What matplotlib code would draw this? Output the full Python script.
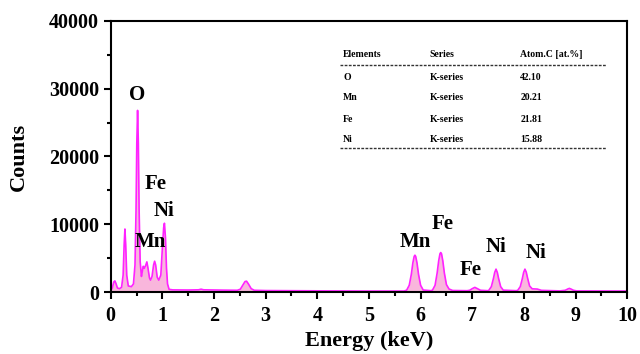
import matplotlib
matplotlib.use('Agg')
import matplotlib.pyplot as plt
from matplotlib.ticker import MultipleLocator

plt.rcParams['font.family'] = ['Liberation Serif', 'DejaVu Serif']
plt.rcParams['font.weight'] = 'bold'

# EDS spectrum, energy (keV) vs counts
energy = [0.00, 0.03, 0.06, 0.08, 0.10, 0.13, 0.17, 0.21, 0.24, 0.26, 0.275, 0.29, 0.31, 0.34,
          0.40, 0.44, 0.47, 0.49, 0.505, 0.52, 0.535, 0.55, 0.57, 0.595, 0.615, 0.63, 0.65,
          0.675, 0.70, 0.72, 0.75, 0.77, 0.80, 0.83, 0.85, 0.87, 0.90, 0.93, 0.97, 1.00,
          1.025, 1.04, 1.06, 1.08, 1.10, 1.13, 1.20, 1.50, 1.70, 1.75, 1.80, 2.20, 2.45,
          2.51, 2.56, 2.60, 2.63, 2.67, 2.72, 2.78, 3.00, 4.00, 5.00, 5.68,
          5.73, 5.78, 5.82, 5.85, 5.875, 5.89, 5.905, 5.93, 5.96, 6.00, 6.05, 6.20,
          6.23, 6.28, 6.32, 6.35, 6.375, 6.39, 6.405, 6.43, 6.46, 6.50, 6.55, 6.62, 6.90,
          6.95, 7.00, 7.05, 7.10, 7.16, 7.30,
          7.32, 7.37, 7.41, 7.435, 7.46, 7.485, 7.51, 7.55, 7.60, 7.85,
          7.88, 7.93, 7.97, 7.995, 8.02, 8.045, 8.07, 8.11, 8.16, 8.26, 8.34, 8.70,
          8.80, 8.85, 8.88, 8.91, 8.96, 9.02, 10.00]
counts = [200, 600, 1500, 1650, 1300, 600, 500, 700, 2500, 7000, 9300, 7000, 2500, 900,
          800, 1200, 4000, 12000, 22000, 26800, 22000, 12000, 4500, 2300, 3200, 3800, 3500,
          3900, 4450, 3600, 2100, 1760, 2300, 4000, 4550, 4000, 2200, 1760, 2500, 6500,
          9500, 10150, 8000, 3500, 1200, 400, 320, 300, 330, 420, 330, 280, 260,
          420, 1050, 1550, 1600, 1150, 500, 260, 220, 180, 150, 150,
          280, 1000, 2600, 4300, 5250, 5440, 5250, 4300, 2600, 1000, 300, 200,
          280, 1000, 2800, 4600, 5650, 5830, 5650, 4600, 2800, 1100, 450, 230, 200,
          260, 500, 690, 500, 260, 200,
          250, 800, 2000, 2900, 3380, 2900, 2000, 800, 280, 200,
          250, 800, 2000, 2900, 3380, 2950, 2100, 900, 480, 440, 250, 170,
          260, 450, 540, 450, 260, 170, 150]

# peak annotations
peak_names = ['O', 'Fe', 'Ni', 'Mn', 'Mn', 'Fe', 'Fe', 'Ni', 'Ni']
peak_x = [0.52, 0.87, 1.04, 0.77, 5.89, 6.42, 6.97, 7.46, 8.23]
peak_y = [29000, 16000, 12000, 7400, 7400, 10000, 3200, 6650, 5700]

# composition table
elements = ['O', 'Mn', 'Fe', 'Ni']
series = ['K-series'] * 4
atom_pct = ['42.10', '20.21', '21.81', '15.88']

fig = plt.figure(figsize=(6.4, 3.54), dpi=100)
ax = fig.add_axes([0.173, 0.175, 0.807, 0.766])

ax.fill_between(energy, counts, 0, color='#f9b6dc', lw=0)
ax.plot(energy, counts, color='#ff22ff', lw=1.2)

for name, x, y in zip(peak_names, peak_x, peak_y):
    ax.text(x, y, name, ha='center', va='center', fontsize=15, fontweight='bold')

# table
cols_x = [0.45, 0.618, 0.793]
ax.text(cols_x[0], 0.875, 'Elements', transform=ax.transAxes, fontsize=7, va='center')
ax.text(cols_x[1], 0.875, 'Series', transform=ax.transAxes, fontsize=7, va='center')
ax.text(cols_x[2], 0.875, 'Atom.C [at.%]', transform=ax.transAxes, fontsize=7, va='center')
ax.plot([0.444, 0.959], [0.838, 0.838], transform=ax.transAxes, color='#333333',
        lw=1.0, ls=(0, (2, 1)))
row_y = [0.793, 0.716, 0.638, 0.561]
for el, s, p, y in zip(elements, series, atom_pct, row_y):
    ax.text(cols_x[0], y, el, transform=ax.transAxes, fontsize=7, va='center')
    ax.text(cols_x[1], y, s, transform=ax.transAxes, fontsize=7, va='center')
    ax.text(cols_x[2], y, p, transform=ax.transAxes, fontsize=7, va='center')
ax.plot([0.444, 0.959], [0.531, 0.531], transform=ax.transAxes, color='#333333',
        lw=1.0, ls=(0, (2, 1)))

ax.set_xlim(0, 10)
ax.set_ylim(0, 40000)
ax.xaxis.set_major_locator(MultipleLocator(1))
ax.xaxis.set_minor_locator(MultipleLocator(0.5))
ax.yaxis.set_major_locator(MultipleLocator(10000))
ax.yaxis.set_minor_locator(MultipleLocator(5000))
ax.tick_params(which='both', direction='out', width=1.5, labelsize=14.5)
ax.tick_params(which='major', length=5)
ax.tick_params(which='minor', length=3)
ax.tick_params(axis='x', pad=5)
ax.tick_params(top=False, right=False)
for sp in ax.spines.values():
    sp.set_linewidth(1.5)

ax.set_xlabel('Energy (keV)', fontsize=16, fontweight='bold', labelpad=4)
ax.set_ylabel('Counts', fontsize=16, fontweight='bold', labelpad=14)

fig.savefig('out.png', dpi=100)
